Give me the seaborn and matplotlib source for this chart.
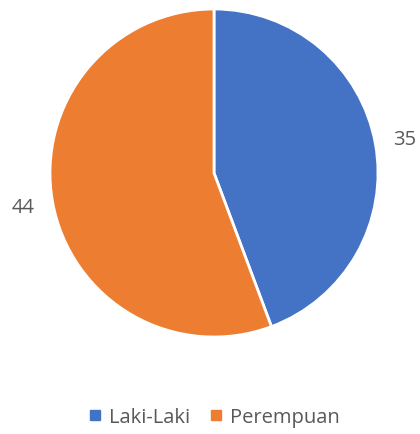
import matplotlib
matplotlib.use("Agg")
import matplotlib.pyplot as plt
from matplotlib.lines import Line2D
import seaborn as sns

# data
categories = ["Laki-Laki", "Perempuan"]
values = [35, 44]
colors = ["#4472C4", "#ED7D31"]

sns.set_theme(style="white")
plt.rcParams["font.family"] = ["Open Sans", "DejaVu Sans"]

fig = plt.figure(figsize=(4.2, 4.35), dpi=100)
ax = fig.add_axes([50 / 420, 97 / 435, 328 / 420, 328 / 435])

wedges, texts = ax.pie(
    values,
    colors=sns.color_palette(colors),
    labels=[str(v) for v in values],
    labeldistance=1.18,
    startangle=90,
    counterclock=False,
    wedgeprops=dict(edgecolor="white", linewidth=2),
    textprops=dict(fontsize=14.5, color="#595959"),
)
for t in texts:
    t.set_horizontalalignment("center")
    t.set_verticalalignment("center")
ax.set_xlim(-1, 1)
ax.set_ylim(-1, 1)
ax.set_aspect("equal")

handles = [Line2D([0], [0], marker="s", color="none", markerfacecolor=c,
                  markeredgecolor=c, markersize=7) for c in colors]
fig.legend(handles, categories, loc="center", bbox_to_anchor=(0.51, 17 / 435),
           ncol=2, frameon=False, fontsize=14.5, handlelength=0.6,
           handletextpad=0.4, columnspacing=1.0, labelcolor="#595959")

fig.savefig("out.png", dpi=100)
